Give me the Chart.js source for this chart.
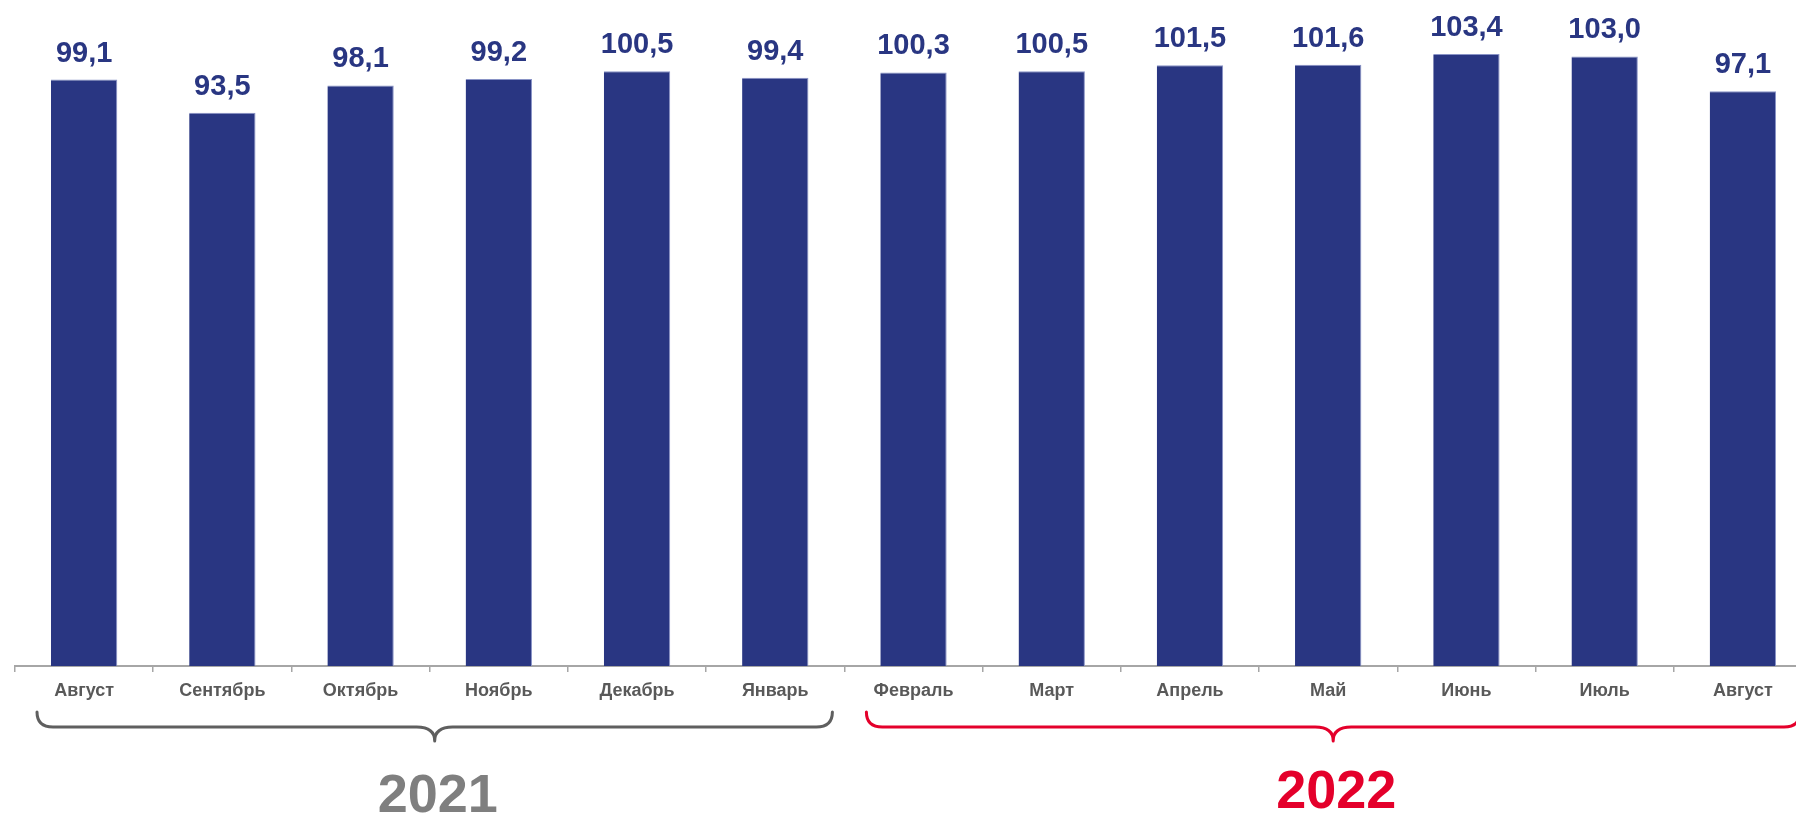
<!DOCTYPE html>
<html lang="ru">
<head>
<meta charset="utf-8">
<title>Индекс по месяцам</title>
<script src="https://cdn.jsdelivr.net/npm/chart.js@4.4.1/dist/chart.umd.min.js"></script>
<style>
  html, body { margin: 0; padding: 0; background: #fff; overflow: hidden; }
  #wrap { position: relative; width: 1812px; height: 815px; }
</style>
</head>
<body>
<div id="wrap"><canvas id="chart"></canvas></div>
<script>
// Monthly values, Aug 2021 - Aug 2022
const months = ['Август', 'Сентябрь', 'Октябрь', 'Ноябрь', 'Декабрь', 'Январь',
  'Февраль', 'Март', 'Апрель', 'Май', 'Июнь', 'Июль', 'Август'];
const values = [99.1, 93.5, 98.1, 99.2, 100.5, 99.4, 100.3, 100.5, 101.5, 101.6, 103.4, 103.0, 97.1];

// year groups under the axis (first / last month index)
const years = ['2021', '2022'];
const yearFirst = [0, 6];
const yearLast = [5, 12];

const NAVY = '#293682';
const fmt = v => v.toFixed(1).replace('.', ',');

// value labels above the bars
const barLabels = {
  id: 'barLabels',
  afterDatasetsDraw(chart) {
    const ctx = chart.ctx;
    const meta = chart.getDatasetMeta(0);
    ctx.save();
    ctx.font = 'bold 29px "Liberation Sans", Arial, sans-serif';
    ctx.fillStyle = NAVY;
    ctx.textAlign = 'center';
    ctx.textBaseline = 'alphabetic';
    meta.data.forEach((bar, i) => {
      ctx.fillText(fmt(values[i]), bar.x, bar.y - 18);
    });
    ctx.restore();
  }
};

// curly braces + year captions
function drawBrace(ctx, x1, x2, tipX, yTop, yLine, yTip) {
  const r = 16;
  const c = 18;
  ctx.beginPath();
  ctx.moveTo(x1, yTop);
  ctx.quadraticCurveTo(x1, yLine, x1 + r, yLine);
  ctx.lineTo(tipX - c, yLine);
  ctx.quadraticCurveTo(tipX, yLine, tipX, yTip);
  ctx.quadraticCurveTo(tipX, yLine, tipX + c, yLine);
  ctx.lineTo(x2 - r, yLine);
  ctx.quadraticCurveTo(x2, yLine, x2, yTop);
  ctx.stroke();
}

const yearBraces = {
  id: 'yearBraces',
  afterDraw(chart) {
    const ctx = chart.ctx;
    const x = chart.scales.x;
    const w = x.width / months.length;
    const colors = ['#5f5f5f', '#e4002b'];
    const textColors = ['#7f7f7f', '#e4002b'];
    const baselines = [812, 808];
    ctx.save();
    years.forEach((yr, g) => {
      const left = x.getPixelForValue(yearFirst[g]) - w / 2 + 22;
      const right = x.getPixelForValue(yearLast[g]) + w / 2 - 12;
      const mid = (left + right) / 2;
      ctx.strokeStyle = colors[g];
      ctx.lineWidth = 3;
      ctx.lineCap = 'round';
      ctx.lineJoin = 'round';
      drawBrace(ctx, left, right, mid, 712, 727, 741);
      ctx.font = 'bold 54px "Liberation Sans", Arial, sans-serif';
      ctx.fillStyle = textColors[g];
      ctx.textAlign = 'center';
      ctx.textBaseline = 'alphabetic';
      ctx.fillText(yr, mid + 3, baselines[g]);
    });
    ctx.restore();
  }
};

new Chart(document.getElementById('chart'), {
  type: 'bar',
  data: {
    labels: months,
    datasets: [{
      data: values,
      backgroundColor: NAVY,
      borderColor: '#8993c6',
      borderWidth: { left: 0, right: 1, top: 1, bottom: 0 },
      barPercentage: 0.48,
      categoryPercentage: 1.0,
    }],
  },
  options: {
    responsive: true,
    maintainAspectRatio: false,
    animation: false,
    layout: { padding: { left: 15, top: 15, right: 0, bottom: 0 } },
    plugins: { legend: { display: false }, tooltip: { enabled: false } },
    scales: {
      x: {
        grid: {
          display: true,
          drawOnChartArea: false,
          drawTicks: true,
          tickLength: 6,
          color: '#a6a6a6',
          lineWidth: 1.5,
        },
        border: { display: true, color: '#a6a6a6', width: 2 },
        ticks: {
          color: '#595959',
          padding: 8,
          maxRotation: 0,
          autoSkip: false,
          font: { family: '"Liberation Sans", Arial, sans-serif', size: 18, weight: 'bold' },
        },
        afterFit(scale) { scale.height = 149; },
      },
      y: {
        display: false,
        min: 0,
        max: 110,
      },
    },
  },
  plugins: [barLabels, yearBraces],
});
</script>
</body>
</html>
